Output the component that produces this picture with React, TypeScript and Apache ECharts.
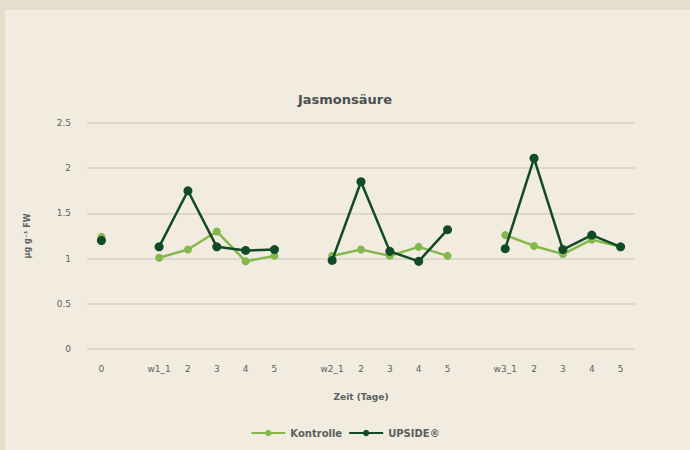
import React, { useEffect, useRef } from "react";
import * as echarts from "echarts";

const categories = ["0", "", "w1_1", "2", "3", "4", "5", " ", "w2_1", "2", "3", "4", "5", "  ", "w3_1", "2", "3", "4", "5"];
const kontrolle = [1.24, null, 1.01, 1.1, 1.3, 0.97, 1.03, null, 1.03, 1.1, 1.03, 1.13, 1.03, null, 1.26, 1.14, 1.05, 1.21, 1.13];
const upside = [1.2, null, 1.13, 1.75, 1.13, 1.09, 1.1, null, 0.98, 1.85, 1.08, 0.97, 1.32, null, 1.11, 2.11, 1.1, 1.26, 1.13];
const yTicks = [0, 0.5, 1, 1.5, 2, 2.5];

const FONT = "'DejaVu Sans', 'Open Sans', sans-serif";

export default function App() {
  const ref = useRef<HTMLDivElement>(null);
  useEffect(() => {
    document.body.style.margin = "0";
    const chart = echarts.init(ref.current!, undefined, { renderer: "svg" });
    chart.setOption({
      animation: false,
      backgroundColor: "#e4dfcb",
      graphic: [
        { type: "rect", z: -10, silent: true, shape: { x: 5, y: 10, width: 685, height: 440 }, style: { fill: "#f1ebe0" } },
      ],
      title: {
        text: "Jasmonsäure",
        left: "center",
        top: 88,
        textStyle: { fontFamily: FONT, fontSize: 13, fontWeight: "bold", color: "#4b5050" },
      },
      legend: {
        bottom: 7,
        left: "center",
        itemWidth: 34,
        itemHeight: 8,
        itemGap: 6,
        textStyle: { fontFamily: FONT, fontSize: 10, fontWeight: "bold", color: "#5a5f5c" },
        data: ["Kontrolle", "UPSIDE®"],
      },
      grid: { left: 87, right: 55, top: 123, bottom: 101 },
      xAxis: {
        type: "category",
        data: categories,
        boundaryGap: true,
        axisLine: { show: false },
        axisTick: { show: false },
        axisLabel: { interval: 0, margin: 15, fontFamily: FONT, fontSize: 9, color: "#5f625f" },
        name: "Zeit (Tage)",
        nameLocation: "middle",
        nameGap: 43,
        nameTextStyle: { fontFamily: FONT, fontSize: 9, fontWeight: "bold", color: "#5a5f5c" },
      },
      yAxis: {
        type: "value",
        min: yTicks[0],
        max: yTicks[yTicks.length - 1],
        interval: 0.5,
        axisLine: { show: false },
        axisTick: { show: false },
        splitLine: { lineStyle: { color: "#d6d0c6", width: 1.5 } },
        axisLabel: { margin: 16, fontFamily: FONT, fontSize: 9, color: "#5f625f", formatter: (v: number) => String(v) },
        name: "µg g⁻¹ FW",
        nameLocation: "middle",
        nameGap: 56,
        nameRotate: 90,
        nameTextStyle: { fontFamily: FONT, fontSize: 8, fontWeight: "bold", color: "#5a5f5c" },
      },
      series: [
        {
          name: "Kontrolle",
          type: "line",
          data: kontrolle,
          connectNulls: false,
          symbol: "circle",
          symbolSize: 8,
          z: 2,
          itemStyle: { color: "#84b84c" },
          lineStyle: { color: "#84b84c", width: 2.5 },
        },
        {
          name: "UPSIDE®",
          type: "line",
          data: upside,
          connectNulls: false,
          symbol: "circle",
          symbolSize: 9,
          z: 3,
          itemStyle: { color: "#114a26" },
          lineStyle: { color: "#114a26", width: 2.5 },
        },
      ],
    });
    return () => chart.dispose();
  }, []);
  return <div ref={ref} style={{ width: 690, height: 450 }} />;
}
